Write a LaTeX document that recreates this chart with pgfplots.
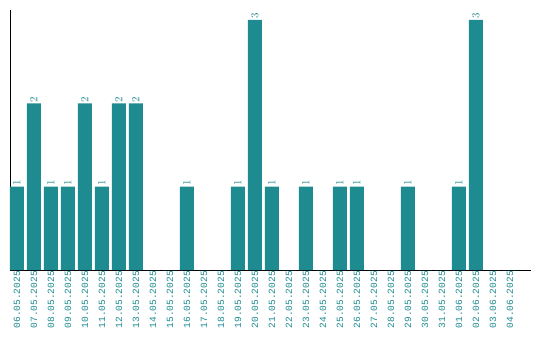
\documentclass[border=0pt]{standalone}
\usepackage{pgfplots}
\pgfplotsset{compat=1.18}
\usepackage{fontspec}
\setmainfont{Liberation Mono}
\definecolor{barteal}{RGB}{30,139,144}
\begin{document}
\begin{tikzpicture}
  \begin{axis}[
      scale only axis,
      width=521bp, height=260bp,
      ybar, bar width=14bp,
      xmin=-0.41, xmax=30.24,
      ymin=0, ymax=3.12,
      axis x line=bottom, axis y line=left,
      axis line style={-, black, line width=0.8pt},
      ytick=\empty,
      xtick={0,...,29},
      major tick length=0pt,
      xticklabels={06.05.2025,07.05.2025,08.05.2025,09.05.2025,10.05.2025,11.05.2025,12.05.2025,13.05.2025,14.05.2025,15.05.2025,16.05.2025,17.05.2025,18.05.2025,19.05.2025,20.05.2025,21.05.2025,22.05.2025,23.05.2025,24.05.2025,25.05.2025,26.05.2025,27.05.2025,28.05.2025,29.05.2025,30.05.2025,31.05.2025,01.06.2025,02.06.2025,03.06.2025,04.06.2025},
      xticklabel style={rotate=90, anchor=east, font=\fontsize{9.5bp}{10bp}\selectfont, text=barteal, inner sep=1bp},
      nodes near coords={\ifdim\pgfplotspointmetatransformed pt>0pt \pgfmathprintnumber{\pgfplotspointmeta}\fi},
      every node near coord/.append style={rotate=90, anchor=west, font=\fontsize{10.5bp}{11bp}\selectfont, text=barteal, inner sep=1bp},
      clip=false,
    ]
    \addplot[fill=barteal, draw=none] coordinates {
      (0,1) (1,2) (2,1) (3,1) (4,2) (5,1) (6,2) (7,2) (8,0) (9,0)
      (10,1) (11,0) (12,0) (13,1) (14,3) (15,1) (16,0) (17,1) (18,0) (19,1)
      (20,1) (21,0) (22,0) (23,1) (24,0) (25,0) (26,1) (27,3) (28,0) (29,0)
    };
  \end{axis}
  \path (current axis.south west) ++(-10bp,-70bp) rectangle ++(540bp,340bp);
\end{tikzpicture}
\end{document}
